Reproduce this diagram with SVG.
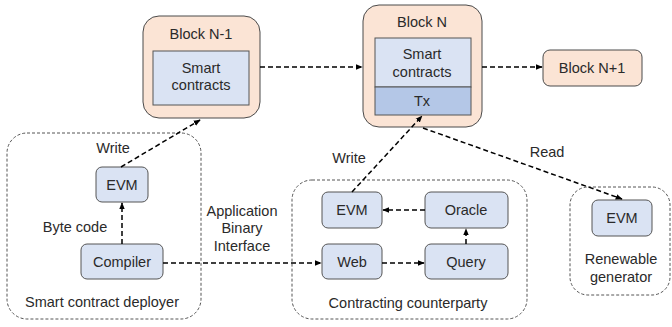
<svg xmlns="http://www.w3.org/2000/svg" width="672" height="327" viewBox="0 0 672 327">
  <defs>
    <marker id="arrow" viewBox="0 0 10 10" refX="9" refY="5" markerWidth="7" markerHeight="7" markerUnits="userSpaceOnUse" orient="auto">
      <path d="M0,1 L10,5 L0,9 Z" fill="#000"/>
    </marker>
    <style>
      text { font-family: "Liberation Sans", Arial, sans-serif; font-size: 14.5px; fill: #2a2a2a; text-anchor: middle; dominant-baseline: central; }
      .block { fill: #fbe4d5; stroke: #4a4a4a; stroke-width: 1; }
      .inner { fill: #dae3f3; stroke: #555; stroke-width: 1; }
      .tx { fill: #b4c7e7; stroke: #555; stroke-width: 1; }
      .node { fill: #dae3f3; stroke: #555; stroke-width: 1; }
      .group { fill: none; stroke: #555; stroke-width: 1; stroke-dasharray: 3 2; }
      .conn { fill: none; stroke: #000; stroke-width: 1.5; stroke-dasharray: 5 3; marker-end: url(#arrow); }
    </style>
  </defs>
  <rect width="672" height="327" fill="#fff"/>

  <!-- dashed grouping frames -->
  <g id="deployer">
    <rect class="group" x="7" y="133" width="194" height="186" rx="20"/>
    <text x="102" y="302">Smart contract deployer</text>
  </g>
  <g id="counterparty">
    <rect class="group" x="292" y="180" width="235" height="139" rx="20"/>
    <text x="408" y="303">Contracting counterparty</text>
  </g>
  <g id="generator">
    <rect class="group" x="570" y="187" width="100" height="108" rx="18"/>
    <text x="621" y="259">Renewable</text>
    <text x="621" y="277">generator</text>
  </g>

  <!-- chain blocks -->
  <g id="block-n-1">
    <rect class="block" x="143" y="16" width="117" height="102" rx="16"/>
    <text x="201" y="34">Block N-1</text>
    <rect class="inner" x="153" y="51" width="96" height="54"/>
    <text x="201" y="68">Smart</text>
    <text x="201" y="85">contracts</text>
  </g>
  <g id="block-n">
    <rect class="block" x="363" y="5" width="119" height="122" rx="16"/>
    <text x="422" y="22">Block N</text>
    <rect class="inner" x="375" y="38" width="96" height="49"/>
    <text x="422" y="54">Smart</text>
    <text x="422" y="72">contracts</text>
    <rect class="tx" x="375" y="87" width="96" height="28"/>
    <text x="422" y="101">Tx</text>
  </g>
  <g id="block-n1">
    <rect class="block" x="543" y="50" width="99" height="36" rx="7"/>
    <text x="592" y="68">Block N+1</text>
  </g>

  <!-- deployer nodes -->
  <g id="evm-deployer">
    <rect class="node" x="96" y="167" width="52" height="35" rx="6"/>
    <text x="122" y="185">EVM</text>
  </g>
  <g id="compiler">
    <rect class="node" x="81" y="244" width="82" height="35" rx="6"/>
    <text x="122" y="262">Compiler</text>
  </g>

  <!-- counterparty nodes -->
  <g id="evm-counterparty">
    <rect class="node" x="322" y="192" width="60" height="36" rx="6"/>
    <text x="352" y="210">EVM</text>
  </g>
  <g id="oracle">
    <rect class="node" x="425" y="192" width="83" height="36" rx="6"/>
    <text x="466" y="210">Oracle</text>
  </g>
  <g id="web">
    <rect class="node" x="322" y="244" width="60" height="35" rx="6"/>
    <text x="352" y="262">Web</text>
  </g>
  <g id="query">
    <rect class="node" x="425" y="244" width="83" height="35" rx="6"/>
    <text x="466" y="262">Query</text>
  </g>

  <!-- generator node -->
  <g id="evm-generator">
    <rect class="node" x="592" y="200" width="60" height="36" rx="6"/>
    <text x="622" y="218">EVM</text>
  </g>

  <!-- connectors -->
  <g id="connectors">
    <line class="conn" x1="260" y1="67" x2="362" y2="67"/>
    <line class="conn" x1="482" y1="67" x2="542" y2="67"/>
    <line class="conn" x1="122" y1="244" x2="122" y2="203"/>
    <line class="conn" x1="121" y1="167" x2="200" y2="120"/>
    <line class="conn" x1="163" y1="263" x2="321" y2="263"/>
    <line class="conn" x1="382" y1="263" x2="424" y2="263"/>
    <line class="conn" x1="466" y1="244" x2="466" y2="229"/>
    <line class="conn" x1="425" y1="210" x2="383" y2="210"/>
    <line class="conn" x1="352" y1="192" x2="422" y2="116"/>
    <line class="conn" x1="423" y1="128" x2="622" y2="199"/>
  </g>

  <!-- connector labels -->
  <g id="labels">
    <text x="113" y="148">Write</text>
    <text x="75" y="227">Byte code</text>
    <text x="242" y="211">Application</text>
    <text x="242" y="228">Binary</text>
    <text x="242" y="246">Interface</text>
    <text x="349" y="158">Write</text>
    <text x="547" y="152">Read</text>
  </g>
</svg>
